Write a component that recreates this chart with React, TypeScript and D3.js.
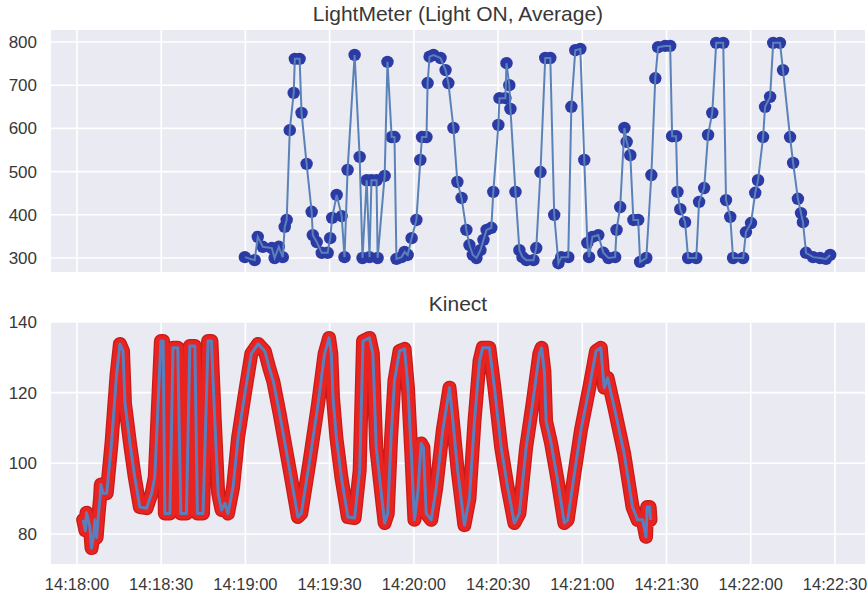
import React from "react";
import * as d3 from "d3";

// seconds after 14:18:00
const lightSeconds = [
  59.8, 63.3, 64.4, 66.2, 69.4, 70.4, 71.9, 73.3, 74.0, 74.7, 75.8, 77.2, 77.6, 79.3, 80.0, 81.8,
  83.6, 84.0, 85.4, 87.2, 89.3, 90.2, 90.9, 92.5, 94.3, 95.3, 96.4, 98.9, 100.7, 101.7, 103.2,
  104.2, 104.9, 106.7, 107.1, 109.6, 110.6, 112.1, 113.1, 113.8, 115.6, 116.7, 117.8, 119.2,
  120.9, 122.3, 122.9, 124.5, 124.9, 125.6, 127.0, 129.5, 131.3, 132.3, 134.1, 135.5, 137.0,
  138.7, 139.8, 141.0, 142.3, 143.7, 144.8, 145.9, 147.6, 148.3, 150.1, 150.5, 152.6, 153.0,
  154.0, 154.4, 156.2, 157.6, 158.7, 160.1, 162.6, 163.6, 165.1, 166.8, 168.6, 170.0, 171.5,
  172.5, 175.0, 176.1, 177.5, 179.3, 180.7, 181.8, 182.4, 183.6, 185.7, 187.5, 189.3, 191.7,
  192.2, 193.5, 195.0, 195.8, 197.1, 198.2, 199.9, 200.6, 202.8, 204.6, 206.0, 207.0, 209.5,
  211.3, 212.0, 213.4, 213.9, 214.9, 216.6, 217.7, 220.6, 221.6, 223.4, 224.8, 226.3, 227.7,
  230.2, 231.2, 232.7, 233.7, 237.3, 238.3, 240.1, 241.6, 242.6, 244.4, 245.1, 246.9, 248.0,
  250.4, 251.5, 254.0, 255.1, 256.8, 257.9, 258.6, 259.7, 262.2, 264.7, 266.8, 268.3,
];
const lightValues = [
  302, 295, 349, 326, 323, 300, 326, 302, 372, 388, 596, 682, 761, 761, 636, 518,
  407, 353, 337, 312, 312, 346, 393, 446, 397, 302, 504, 770, 534, 300, 480,
  302, 480, 480, 300, 490, 754, 580, 580, 298, 302, 314, 307, 346,
  388, 527, 580, 580, 705, 766, 770, 763, 735, 705, 601, 476, 439,
  365, 330, 307, 300, 318, 342, 365, 370, 453, 608, 670, 670, 751,
  700, 645, 453, 318, 302, 295, 295, 323, 499, 763, 763, 400, 288,
  302, 302, 650, 781, 784, 527, 335, 302, 349, 353, 312, 300, 302,
  365, 418, 601, 569, 538, 388, 388, 291, 300, 492, 716, 788, 791,
  791, 582, 582, 453, 413, 383, 300, 300, 430, 462, 585, 636, 798,
  798, 434, 395, 300, 300, 360, 381, 451, 480, 580, 650, 673, 798,
  798, 735, 580, 520, 437, 404, 383, 312, 302, 300, 298, 307,
];

const kinectSeconds = [
  2.2, 3.0, 3.4, 4.6, 5.2, 6.0, 6.4, 7.0, 7.6, 8.2, 8.5, 9.3, 10.6, 12.3, 14.1, 15.3, 16.4,
  17.1, 18.9, 20.6, 22.4, 24.8, 26.6, 27.7, 28.9, 29.9, 30.7, 31.3, 33.1, 34.2, 35.9, 37.0,
  39.0, 40.2, 42.0, 42.9, 44.9, 46.7, 47.9, 49.1, 50.3, 51.5, 52.7, 53.8, 55.6, 57.4, 59.8,
  62.1, 64.5, 66.9, 68.5, 70.0, 72.2, 75.8, 78.7, 79.9, 82.9, 85.9, 88.2, 89.8, 90.6, 91.2,
  92.4, 94.2, 96.5, 98.9, 100.7, 101.9, 104.2, 105.4, 106.6, 108.4, 109.6, 110.7, 111.9,
  113.1, 114.9, 116.7, 117.9, 119.1, 120.2, 121.4, 122.6, 123.4, 124.4, 126.2, 128.0, 130.3,
  132.7, 133.9, 135.6, 138.0, 139.8, 141.6, 143.4, 144.5, 146.9, 148.7, 151.1, 153.4, 155.8,
  157.6, 160.0, 162.3, 164.7, 165.5, 166.5, 167.1, 168.9, 171.2, 173.6, 174.8, 177.2, 179.5,
  182.5, 184.9, 186.6, 187.8, 189.0, 191.4, 194.9, 197.9, 199.7, 201.5, 202.7, 203.1, 204.0,
  204.3,
];
const kinectValues = [
  84, 81, 86, 82, 76, 80, 84, 79, 85, 90, 94, 91.5, 91.5, 105.6, 125, 133.8, 131.8,
  117, 105.6, 96, 87.6, 87.3, 91.5, 96, 117, 134.6, 134.6, 85.8, 85.8, 132.7, 132.7, 85.8,
  85.8, 133.2, 133.2, 85.8, 85.8, 134.6, 134.6, 112, 91.5, 86.8, 88.7, 85.8, 93.2, 107.3, 119.7,
  131, 133.8, 131.8, 127, 123, 114, 98, 84.8, 85.8, 100.8, 116.9, 131, 135.5, 131, 118.6,
  107.3, 96, 84.8, 84.5, 98, 134.6, 135.5, 131, 104.5, 91.5, 83.1, 85.8, 107.3,
  123.4, 131.8, 132.4, 121.4, 102.8, 84, 91.5, 105.6, 104.5, 85.8, 84, 93.2, 109.3,
  121.4, 112, 98, 82.5, 90, 112, 129, 132.7, 132.7, 121.4, 104.5, 93.2, 83.1,
  85.8, 104.5, 116.9, 131, 132.7, 126, 112, 105.6, 95.2, 83.1, 84, 97.2, 109.3,
  121.4, 131.8, 132.7, 121.4, 124.2, 115.8, 102.8, 87.6, 84, 84, 79.2, 87.6, 87.6,
  84,
];

const xTickLabels = [
  "14:18:00", "14:18:30", "14:19:00", "14:19:30", "14:20:00",
  "14:20:30", "14:21:00", "14:21:30", "14:22:00", "14:22:30",
];
const lightTicks = [300, 400, 500, 600, 700, 800];
const kinectTicks = [80, 100, 120, 140];

const parseTime = d3.timeParse("%H:%M:%S");
const t0 = parseTime("14:18:00") as Date;
const toDate = (s: number) => new Date(t0.getTime() + s * 1000);

const W = 868;
const H = 596;
const left = 51;
const right = 865;
const font = "'Liberation Sans', Arial, sans-serif";
const textColor = "#383838";

const x = d3
  .scaleTime()
  .domain([toDate(-9.25), toDate(280.7)])
  .range([left, right]);

const yLight = d3.scaleLinear().domain([267.6, 827.8]).range([272, 30]);
const yKinect = d3.scaleLinear().domain([71.5, 140]).range([564, 322]);

const lightData = lightSeconds.map((s, i) => ({ t: toDate(s), v: lightValues[i] }));
const kinectData = kinectSeconds.map((s, i) => ({ t: toDate(s), v: kinectValues[i] }));

const Panel = ({ y, ticks, top, bottom, title, titleY }: any) => (
  <g>
    <rect x={left} y={top} width={right - left} height={bottom - top} fill="#eaeaf2" />
    {xTickLabels.map((l) => {
      const px = x(parseTime(l) as Date);
      return <line key={l} x1={px} x2={px} y1={top} y2={bottom} stroke="#fff" strokeWidth={1.6} />;
    })}
    {ticks.map((t: number) => (
      <g key={t}>
        <line x1={left} x2={right} y1={y(t)} y2={y(t)} stroke="#fff" strokeWidth={1.6} />
        <text x={37} y={y(t)} dy="0.35em" textAnchor="end" fontSize={17} fill={textColor} fontFamily={font}>
          {t}
        </text>
      </g>
    ))}
    <text x={(left + right) / 2} y={titleY} textAnchor="middle" fontSize={21} fill={textColor} fontFamily={font}>
      {title}
    </text>
  </g>
);

export default function App() {
  const lightLine = d3
    .line<{ t: Date; v: number }>()
    .x((d) => x(d.t))
    .y((d) => yLight(d.v));
  const kinectLine = d3
    .line<{ t: Date; v: number }>()
    .x((d) => x(d.t))
    .y((d) => yKinect(d.v));

  return (
    <svg width={W} height={H} style={{ position: "absolute", left: 0, top: 0, background: "#fff" }}>
      <Panel y={yLight} ticks={lightTicks} top={30} bottom={272} title="LightMeter (Light ON, Average)" titleY={21} />
      <Panel y={yKinect} ticks={kinectTicks} top={322} bottom={564} title="Kinect" titleY={311} />

      {/* light meter: markers under the line */}
      {lightData.map((d, i) => (
        <circle key={i} cx={x(d.t)} cy={yLight(d.v)} r={6.2} fill="#2c3aa6" />
      ))}
      <path d={lightLine(lightData) || ""} fill="none" stroke="#5b82b8" strokeWidth={2} />

      {/* kinect: dense red markers drawn as a thick band, blue line on top */}
      <path
        d={kinectLine(kinectData) || ""}
        fill="none"
        stroke="#c41c1a"
        strokeWidth={14}
        strokeLinejoin="round"
        strokeLinecap="round"
      />
      <path
        d={kinectLine(kinectData) || ""}
        fill="none"
        stroke="#e9231f"
        strokeWidth={11.5}
        strokeLinejoin="round"
        strokeLinecap="round"
      />
      <path d={kinectLine(kinectData) || ""} fill="none" stroke="#5a7fbf" strokeWidth={3} strokeLinejoin="round" />

      {xTickLabels.map((l) => (
        <text
          key={l}
          x={x(parseTime(l) as Date)}
          y={590}
          textAnchor="middle"
          fontSize={16.5}
          fill={textColor}
          fontFamily={font}
        >
          {l}
        </text>
      ))}
    </svg>
  );
}
